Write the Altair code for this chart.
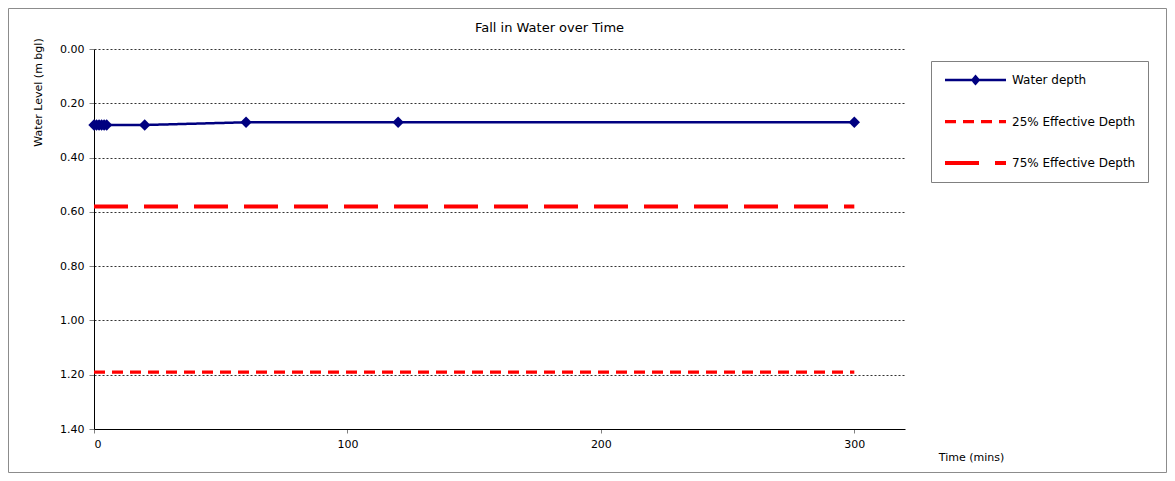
import altair as alt
import pandas as pd

# ---- data ----
time_mins = [0, 1, 2, 3, 4, 5, 20, 60, 120, 300]
water_depth = [0.28, 0.28, 0.28, 0.28, 0.28, 0.28, 0.28, 0.27, 0.27, 0.27]

eff_times = [0, 300]
eff25_depth = [1.19, 1.19]
eff75_depth = [0.58, 0.58]

series_names = ["Water depth", "25% Effective Depth", "75% Effective Depth"]
series_colors = ["#000080", "#FF0000", "#FF0000"]
series_dash = [[1, 0], [11, 7], [34, 16]]
series_width = [2.5, 4, 5]

y_ticks = [0.0, 0.2, 0.4, 0.6, 0.8, 1.0, 1.2, 1.4]
x_ticks = [0, 100, 200, 300]

FONT = "DejaVu Sans"

rows = []
for t, d in zip(time_mins, water_depth):
    rows.append({"time": t, "depth": d, "series": series_names[0]})
for t, d in zip(eff_times, eff25_depth):
    rows.append({"time": t, "depth": d, "series": series_names[1]})
for t, d in zip(eff_times, eff75_depth):
    rows.append({"time": t, "depth": d, "series": series_names[2]})
df = pd.DataFrame(rows)

x_enc = alt.X(
    "time:Q",
    scale=alt.Scale(domain=[0, 320], nice=False),
    axis=alt.Axis(
        values=x_ticks, grid=False, title="Time (mins)",
        titleX=877, titleY=28, titleAlign="center", titleBaseline="middle",
        titleFontWeight="normal", labelPadding=5, tickSize=4,
    ),
)
y_enc = alt.Y(
    "depth:Q",
    scale=alt.Scale(domain=[0, 1.4], reverse=True, nice=False),
    axis=alt.Axis(
        values=y_ticks, format=".2f", title="Water Level (m bgl)",
        titleX=-56, titleY=43, titleAngle=-90, titleAlign="center",
        titleBaseline="middle", titleFontWeight="normal", labelPadding=5, tickSize=5,
    ),
)

diamond_path = "M-1,0H1M-0.1,0L0,-0.12L0.1,0L0,0.12Z"
line_path = "M-1,0H1"

legend = alt.Legend(
    title=None,
    orient="none",
    legendX=837,
    legendY=12,
    padding=12,
    symbolSize=3721,
    clipHeight=14,
    rowPadding=27.5,
    labelOffset=4,
    labelFont=FONT,
    labelFontSize=12,
    labelColor="#000000",
    strokeColor="#808080",
    fillColor="white",
    labelLimit=300,
    symbolType=alt.ExprRef(expr=f"datum.label === 'Water depth' ? '{diamond_path}' : '{line_path}'"),
    symbolFillColor=alt.ExprRef(expr="datum.label === 'Water depth' ? '#000080' : 'transparent'"),
)

lines = alt.Chart(df).mark_line(strokeCap="butt").encode(
    x=x_enc,
    y=y_enc,
    color=alt.Color("series:N", scale=alt.Scale(domain=series_names, range=series_colors), legend=legend),
    strokeDash=alt.StrokeDash("series:N", scale=alt.Scale(domain=series_names, range=series_dash), legend=legend),
    strokeWidth=alt.StrokeWidth("series:N", scale=alt.Scale(domain=series_names, range=series_width), legend=legend),
    order="time:Q",
)

points = alt.Chart(df).transform_filter(
    alt.datum.series == series_names[0]
).mark_point(shape="diamond", filled=True, size=130, color="#000080", opacity=1).encode(
    x="time:Q",
    y="depth:Q",
)

frame = alt.Chart(pd.DataFrame({"k": [0]})).mark_rect(
    fillOpacity=0, stroke="#8c8c8c", strokeWidth=1
).encode(
    x=alt.value(-85.5), x2=alt.value(1072.5), y=alt.value(-40.5), y2=alt.value(423.5)
)

chart = alt.layer(frame, lines, points).properties(
    width=811,
    height=380,
    autosize=alt.AutoSizeParams(type="none"),
    padding={"left": 86, "top": 41, "right": 262, "bottom": 44},
    title=alt.TitleParams(
        "Fall in Water over Time", font=FONT, fontSize=13, fontWeight="normal",
        color="#000000", anchor="middle", dx=50, dy=33, offset=0, baseline="middle",
    ),
).configure(
    background="white"
).configure_view(
    stroke=None
).configure_axis(
    labelFont=FONT, labelFontSize=11, labelColor="#000000",
    titleFont=FONT, titleFontSize=11, titleFontWeight="normal", titleColor="#000000",
    domainColor="#000000", domainWidth=1, tickColor="#808080",
    gridColor="#000000", gridDash=[2, 2], gridWidth=1, gridOpacity=0.8,
)

chart.save("out.html", embed_options={"renderer": "svg", "actions": False})
